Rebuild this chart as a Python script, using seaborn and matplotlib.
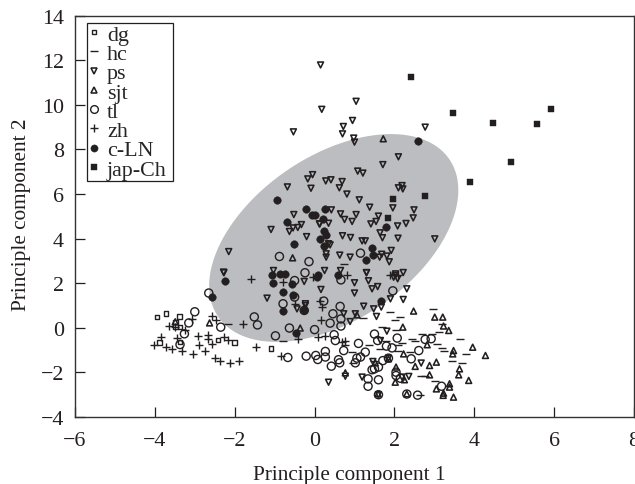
import numpy as np
import pandas as pd
import matplotlib
matplotlib.use("Agg")
import matplotlib.pyplot as plt
from matplotlib.lines import Line2D
import seaborn as sns

dg = [(-3.95,.48),(-3.72,.63),(-3.38,.52),(-3.49,.26),(-3.49,.06),(-3.37,.03),(-3.89,-.67),(-3.37,-.64),(-2.42,-.54),(-2.0,-.67),(-1.09,-.94)]
hc = [(2.96,.85),(1.9,.73),(1.21,.45),(2.15,.48),(2.02,.33),(3.19,.18),(1.69,.03),(2.05,-.12),(3.11,-.17),(2.69,-.27),(2.95,-.27),
      (2.44,-.49),(3.63,-.49),(2.52,-.61),(2.19,-.67),(1.8,-.57),(1.37,-.76),(1.65,-.94),(2.1,-.79),(2.1,-1.02),(2.4,-1.09),(3.07,-.72),
      (3.19,-.91),(3.23,-1.02),(3.78,-1.17),(3.44,-1.49),(3.69,-1.57),(1.5,-1.51),(.94,-1.09),(.97,-1.58),(2.77,-2.17),(2.67,-2.17),
      (3.02,-2.39),(.77,-.76),(2.65,-3.03),(.73,2.87),(-2.16,.15),(-.79,-.61)]
ps = [(.15,11.79),(.18,9.8),(-.53,8.79),(.72,9.03),(.7,8.7),(-.05,6.87),(-.17,6.68),(-.09,6.26),(-.68,6.32),(.28,6.59),(.41,6.64),(.69,6.56),
      (.62,6.28),(.81,6.0),(1.04,10.16),(.95,9.3),(.98,8.51),(1.0,8.33),(2.77,9.0),(2.1,7.67),(1.71,7.32),(1.08,7.03),(1.21,6.94),(2.1,6.28),
      (2.19,6.38),(2.21,6.23),(1.12,5.74),(1.38,5.41),(1.96,5.38),(2.49,5.29),(1.04,5.08),(1.6,5.01),(2.47,4.93),(.94,4.77),(.75,4.86),(.65,5.11),
      (.42,5.29),(.35,4.69),(.13,4.66),(1.54,4.77),(1.41,4.66),(2.08,4.57),(2.29,4.68),(1.64,4.26),(1.7,4.04),(2.09,4.02),(3.01,3.99),(.7,4.13),
      (.9,4.05),(1.19,3.9),(1.27,3.9),(.39,3.72),(.29,3.32),(.29,3.17),(.63,3.26),(.89,3.17),(1.92,3.47),(1.68,3.3),(1.63,3.17),(1.81,3.22),
      (1.87,2.96),(.25,2.57),(.65,2.57),(1.3,2.48),(2.03,2.42),(2.22,2.48),(1.98,2.27),(-2.15,3.42),(-2.28,2.5),(-1.09,4.41),(-.52,5.08),(-.63,4.32),
      (-.54,4.48),(-.42,4.5),(-.33,4.63),(-.2,4.09),(.12,4.66),(.35,3.77),(-1.03,2.57),(-2.27,2.47),(-1.19,1.33),(-.26,2.08),(-.44,.85),(-.23,1.08),
      (.16,1.72),(1.0,2.02),(1.0,1.56),(1.3,2.47),(1.35,2.11),(1.44,1.75),(1.58,1.85),(1.9,1.3),(2.22,1.27),(2.31,1.75),(2.02,2.35),(2.08,2.2),
      (1.67,.93),(1.48,.85),(1.55,.51),(1.23,.97),(1.02,.63),(.89,.28),(.73,.63),(1.81,-.15),(2.67,-1.58),(2.36,-2.18),(.35,-2.44),(.77,-2.17),
      (1.19,-2.21),(1.46,-1.51),(2.19,-2.21),(1.65,-.57),(-.23,1.0),(1.6,-3.0),(1.85,-1.36)]
sjt = [(2.48,.75),(3.01,.48),(3.21,.48),(2.21,.03),(3.23,.08),(3.36,-.12),(2.82,-.76),(3.48,-1.02),(3.46,-1.17),(3.96,-.87),(4.28,-1.24),(2.23,-1.17),
       (3.05,-1.54),(2.88,-1.69),(2.52,-1.73),(2.88,-2.11),(3.63,-1.84),(3.61,-2.11),(3.86,-2.36),(3.38,-2.51),(3.38,-2.66),(3.05,-2.74),(3.23,-2.93),
       (3.22,-3.03),(3.48,-3.11),(2.04,-1.76),(2.02,-2.44),(2.25,-2.33),(2.31,-2.96),(.77,-2.02),(1.59,-2.96),(1.06,.58),(1.85,-1.39),(1.52,-1.57),
       (-2.63,.22),(-.36,-.01),(-3.49,.27),(1.72,8.48),(-.55,3.14)]
tl = [(-2.65,1.56),(-3.0,.72),(-3.15,.22),(-3.26,-.27),(-3.37,-.75),(-1.51,.49),(-1.43,.13),(-2.35,.03),(-.98,-.36),(-.63,-.01),(-.67,-1.33),(-.21,-1.27),
      (-.79,1.08),(-.5,1.38),(-.5,2.12),(-.24,2.47),(-.26,.78),(-.88,3.2),(-.14,2.97),(1.15,3.35),(.66,2.15),(1.96,1.66),(.23,1.2),(.64,.96),(.46,.63),
      (.66,.4),(.39,.21),(.66,.08),(0,-.08),(.49,-.31),(.52,-.57),(1.1,-.7),(.73,-1.02),(1.5,-.28),(1.58,-.57),(1.8,-.82),(1.94,-.9),(2.07,-.46),
      (2.61,-1.02),(2.42,-1.39),(2.92,-.49),(2.77,-.52),(.03,-1.24),(.08,-1.42),(.27,-1.06),(.27,-1.31),(.42,-1.72),(.6,-1.43),(.63,-1.57),(1.06,-1.36),
      (1.15,-1.31),(1.02,-1.57),(1.27,-1.09),(1.71,-1.47),(1.85,-1.36),(1.6,-1.76),(1.44,-1.88),(1.5,-1.84),(2.04,-1.99),(2.04,-2.14),(2.15,-2.26),
      (1.6,-2.33),(1.34,-2.29),(1.34,-2.62),(1.6,-3.0),(2.31,-2.97),(2.58,-3.02),(3.18,-2.62)]
zh = [(-1.59,2.17),(-.78,2.05),(-2.56,.55),(-2.47,.33),(-1.8,.18),(-3.64,.06),(-3.5,.05),(-3.07,.4),(-3.24,-.09),(-2.93,-.35),(-2.67,-.31),(-2.66,-.49),
      (-2.57,-.72),(-2.26,-.42),(-2.16,-.54),(-2.89,-.79),(-2.74,-1.06),(-3.05,-1.17),(-3.31,-1.05),(-3.57,-.97),(-3.72,-.84),(-4.03,-.79),(-3.84,-.42),
      (-3.45,-.46),(-2.49,-1.36),(-2.36,-1.51),(-2.11,-1.58),(-1.89,-1.51),(-1.46,-.84),(-.84,-1.27),(-.42,-.49),(-.48,1.08),(.81,2.35),(.14,1.22),
      (.19,.93),(.16,.37),(.08,-.42),(.27,-.35),(.69,-.64),(.77,-.57),(-.03,2.27),(1.9,2.39),(2.08,2.39)]
c_LN = [(-.93,5.74),(-.21,5.34),(-.07,5.08),(.02,5.07),(.27,5.34),(.22,4.89),(-.68,4.75),(.23,4.36),(.14,3.99),(.29,4.17),(-.51,3.77),(.24,3.66),
        (-1.07,2.35),(-.86,2.42),(-.73,2.42),(.06,2.29),(2.59,8.4),(1.8,4.52),(1.45,3.57),(1.46,3.27),(1.29,3.05),(.09,2.35),(.58,2.39),(-2.24,2.08),
        (-2.57,1.4),(-1.05,1.99),(-.56,1.97),(-.79,1.6),(-.55,1.48),(-.78,.75),(-.47,-.24),(1.67,1.2),(-.26,.78)]
jap_Ch = [(2.41,11.25),(3.47,9.64),(4.48,9.18),(5.58,9.14),(5.92,9.83),(4.93,7.44),(3.9,6.53),(2.77,5.92),(1.96,5.78),(1.85,4.93)]

x_ticks = [-6, -4, -2, 0, 2, 4, 6, 8]
y_ticks = [-4, -2, 0, 2, 4, 6, 8, 10, 12, 14]

ell_center = (0.48, 4.03)
ell_half = (3.12, 4.66)
ell_r = 0.46

sns.set_theme(style="ticks")
plt.rcParams["font.family"] = ["Liberation Serif", "DejaVu Serif"]
plt.rcParams["axes.unicode_minus"] = True

W, H = 635, 485
FS = 15.8
LFS = 15.8
fig = plt.figure(figsize=(W / 100, H / 100), dpi=100)
ax = fig.add_axes([75 / W, 1 - 418 / H, (634 - 75) / W, (418 - 16.7) / H])

t = np.linspace(0, 2 * np.pi, 300)
phi = np.arccos(ell_r)
ax.fill(ell_center[0] + ell_half[0] * np.cos(t),
        ell_center[1] + ell_half[1] * np.cos(t - phi),
        color="#bcbdc0", lw=0, zorder=1)

series = [
    ("dg", dg, "s", 11, False, 1.0),
    ("hc", hc, "_", 34, True, 1.0),
    ("ps", ps, "v", 18, False, 1.15),
    ("sjt", sjt, "^", 18, False, 1.15),
    ("tl", tl, "o", 34, False, 1.0),
    ("zh", zh, "+", 30, True, 1.0),
    ("c-LN", c_LN, "o", 30, True, 0.3),
    ("jap-Ch", jap_Ch, "s", 24, True, 0.3),
]

handles = []
for i, (name, pts, mk, size, filled, lw) in enumerate(series):
    df = pd.DataFrame(pts, columns=["pc1", "pc2"])
    sns.scatterplot(data=df, x="pc1", y="pc2", marker=mk, s=size, ax=ax, zorder=3 + i,
                    facecolor="#231f20" if filled else "none",
                    edgecolor="#231f20", linewidth=lw, legend=False, clip_on=True)
    handles.append(Line2D([], [], ls="none", marker=mk, ms=np.sqrt(size) * 0.95, mew=lw,
                          mfc="#231f20" if filled else "none", mec="#231f20", label=name))

ax.set_xlim(-6, 8)
ax.set_ylim(-4, 14)
ax.set_xticks(x_ticks)
ax.set_yticks(y_ticks)
ax.tick_params(direction="in", length=7, width=0.9, color="#231f20",
               labelsize=FS, labelcolor="#231f20", top=False, right=False)
ax.tick_params(axis="y", pad=8)
ax.tick_params(axis="x", pad=10)
for s in ax.spines.values():
    s.set_visible(True)
    s.set_linewidth(1.0)
    s.set_color("#333333")
ax.set_xlabel("Principle component 1", fontsize=15.3, color="#231f20", labelpad=11, x=0.49)
ax.set_ylabel("Principle component 2", fontsize=15.3, color="#231f20", labelpad=7, y=0.506)

leg = ax.legend(handles=handles, loc="upper left", bbox_to_anchor=(0.0215, 0.9815, 85.5 / 559, 0),
                mode="expand", borderaxespad=0,
                fontsize=LFS, frameon=True, fancybox=False, framealpha=1, edgecolor="#231f20",
                labelspacing=-0.05, handletextpad=0.3, handlelength=0.55, borderpad=0.06)
leg.get_frame().set_linewidth(0.9)
leg.set_zorder(20)

fig.savefig("out.png", dpi=100)
